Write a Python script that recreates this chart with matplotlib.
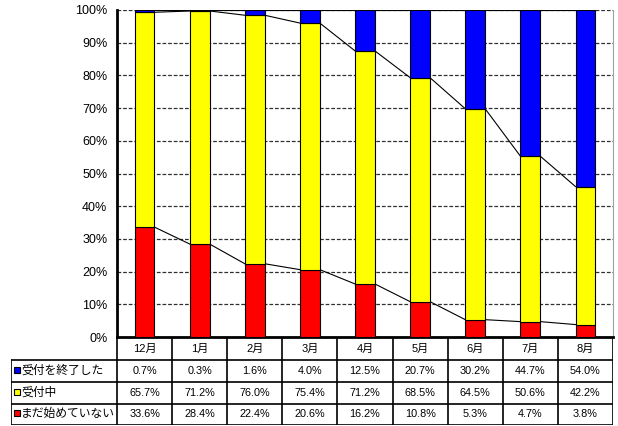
import matplotlib.pyplot as plt
from matplotlib.patches import Rectangle
import numpy as np

plt.rcParams['font.family'] = ['Liberation Sans', 'Noto Sans CJK JP', 'DejaVu Sans']

# データ
months = ['12月', '1月', '2月', '3月', '4月', '5月', '6月', '7月', '8月']
series_names = ['受付を終了した', '受付中', 'まだ始めていない']
done = [0.7, 0.3, 1.6, 4.0, 12.5, 20.7, 30.2, 44.7, 54.0]
ongoing = [65.7, 71.2, 76.0, 75.4, 71.2, 68.5, 64.5, 50.6, 42.2]
notyet = [33.6, 28.4, 22.4, 20.6, 16.2, 10.8, 5.3, 4.7, 3.8]
colors = ['#0000FF', '#FFFF00', '#FF0000']

W, H = 618, 426
fig = plt.figure(figsize=(W / 100, H / 100), dpi=100)

# グラフ部分
ax = fig.add_axes([117 / W, 1 - 337 / H, (613 - 117) / W, (337 - 10) / H])
x = np.arange(len(months))
tot = np.array(done) + np.array(ongoing) + np.array(notyet)
r = np.array(notyet) / tot * 100
y = np.array(ongoing) / tot * 100
b = np.array(done) / tot * 100
bw = 0.36
ax.bar(x, r, bw, color=colors[2], edgecolor='black', linewidth=0.8, zorder=3)
ax.bar(x, y, bw, bottom=r, color=colors[1], edgecolor='black', linewidth=0.8, zorder=3)
ax.bar(x, b, bw, bottom=r + y, color=colors[0], edgecolor='black', linewidth=0.8, zorder=3)

# 区分線
for lev in [r, r + y, r + y + b]:
    for i in range(len(x) - 1):
        ax.plot([x[i] + bw / 2, x[i + 1] - bw / 2], [lev[i], lev[i + 1]],
                color='black', lw=0.8, zorder=2)

ax.set_xlim(-0.5, len(months) - 0.5)
ax.set_ylim(0, 100)
ax.set_yticks(range(0, 101, 10))
ax.set_yticklabels([f'{v}%' for v in range(0, 101, 10)], fontsize=9)
ax.tick_params(axis='y', length=0, pad=7)
ax.set_xticks([])
ax.yaxis.grid(True, linestyle=(0, (3, 1.5)), color='#303030', lw=0.9)
ax.set_axisbelow(True)
ax.spines['top'].set_visible(False)
ax.spines['left'].set_linewidth(2)
ax.spines['bottom'].set_linewidth(2)
ax.spines['right'].set_color('#a0a0a0')

# 表
colpx = (613 - 117) / len(months)
lw = 106 / colpx
left = -0.5 - lw
tax = fig.add_axes([11 / W, 1 - 425 / H, (613 - 11) / W, (425 - 337) / H])
tax.set_xlim(left, len(months) - 0.5)
rows_y = [337, 360, 382, 404, 425]
tax.set_ylim(425.5, 337)
tax.axis('off')

for k in range(len(months) + 1):
    tax.plot([-0.5 + k, -0.5 + k], [337, 425], color='black', lw=1.2)
tax.plot([left, left], [360, 425], color='black', lw=1.2)
for yy in rows_y[1:]:
    tax.plot([left, len(months) - 0.5], [yy, yy], color='black', lw=1.2)

for i, m in enumerate(months):
    tax.text(i, (rows_y[0] + rows_y[1]) / 2, m, ha='center', va='center', fontsize=8)

vals = [done, ongoing, notyet]
for j, (name, v, c) in enumerate(zip(series_names, vals, colors)):
    yc = (rows_y[j + 1] + rows_y[j + 2]) / 2
    tax.add_patch(Rectangle((left + 3 / colpx, yc - 4), 6 / colpx, 6,
                            facecolor=c, edgecolor='black', lw=0.8))
    tax.text(left + 10 / colpx, yc, name, ha='left', va='center', fontsize=8.5)
    for i, val in enumerate(v):
        tax.text(i, yc, f'{val:.1f}%', ha='center', va='center', fontsize=7.8)

fig.savefig('out.png', dpi=100)
